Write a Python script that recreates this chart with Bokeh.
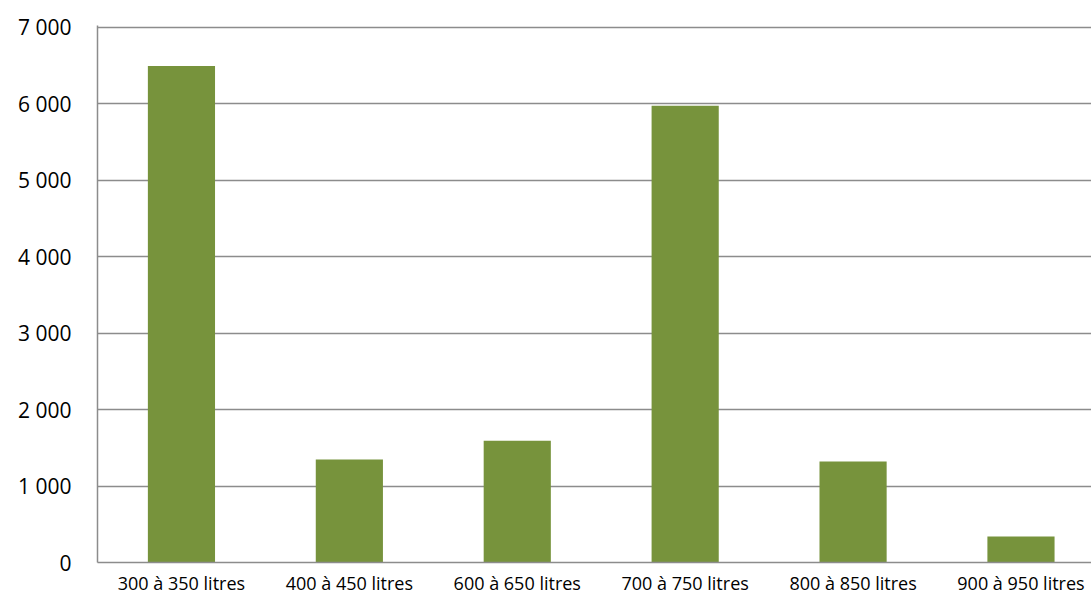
from bokeh.plotting import figure
from bokeh.models import ColumnDataSource, FixedTicker, Range1d
from bokeh.embed import file_html
from bokeh.resources import INLINE

categories = ["300 à 350 litres", "400 à 450 litres", "600 à 650 litres",
              "700 à 750 litres", "800 à 850 litres", "900 à 950 litres"]
values = [6490, 1345, 1590, 5970, 1320, 340]
y_ticks = [0, 1000, 2000, 3000, 4000, 5000, 6000, 7000]
y_tick_labels = ["0", "1 000", "2 000", "3 000", "4 000", "5 000", "6 000", "7 000"]

xs = [i + 0.5 for i in range(len(categories))]
src = ColumnDataSource(dict(x=xs, top=values, cat=categories))

# frame: x 97..1091 (994 px), category step ~167.9 px
p = figure(width=1091, height=597, output_backend="svg", toolbar_location=None,
           x_range=Range1d(0, 5.92), y_range=Range1d(0, 7020),
           min_border_left=97, min_border_right=0, min_border_top=25, min_border_bottom=35)
p.outline_line_color = None
p.background_fill_color = "white"
p.border_fill_color = "white"

p.vbar(x="x", top="top", width=0.4, source=src, fill_color="#77933C", line_color=None)

# y axis
p.yaxis.ticker = FixedTicker(ticks=y_ticks)
p.yaxis.major_label_overrides = {t: l for t, l in zip(y_ticks, y_tick_labels)}
p.yaxis.major_label_text_font = "Open Sans"
p.yaxis.major_label_text_font_size = "21px"
p.yaxis.major_label_text_color = "black"
p.yaxis.major_label_standoff = 26
p.yaxis.major_tick_out = 0
p.yaxis.major_tick_in = 0
p.yaxis.major_tick_line_color = None
p.yaxis.minor_tick_line_color = None
p.yaxis.axis_line_color = "#8c8c8c"
p.yaxis.axis_line_width = 1.5

# x axis
p.xaxis.ticker = FixedTicker(ticks=xs)
p.xaxis.major_label_overrides = {x: c for x, c in zip(xs, categories)}
p.xaxis.major_label_text_font = "Open Sans"
p.xaxis.major_label_text_font_size = "18px"
p.xaxis.major_label_text_color = "black"
p.xaxis.major_label_standoff = 8
p.xaxis.major_tick_out = 0
p.xaxis.major_tick_in = 0
p.xaxis.major_tick_line_color = None
p.xaxis.minor_tick_line_color = None
p.xaxis.axis_line_color = "#8c8c8c"
p.xaxis.axis_line_width = 1.5

p.xgrid.grid_line_color = None
p.ygrid.grid_line_color = "#8c8c8c"
p.ygrid.grid_line_width = 1.5

open("out.html", "w").write(file_html(p, INLINE))
